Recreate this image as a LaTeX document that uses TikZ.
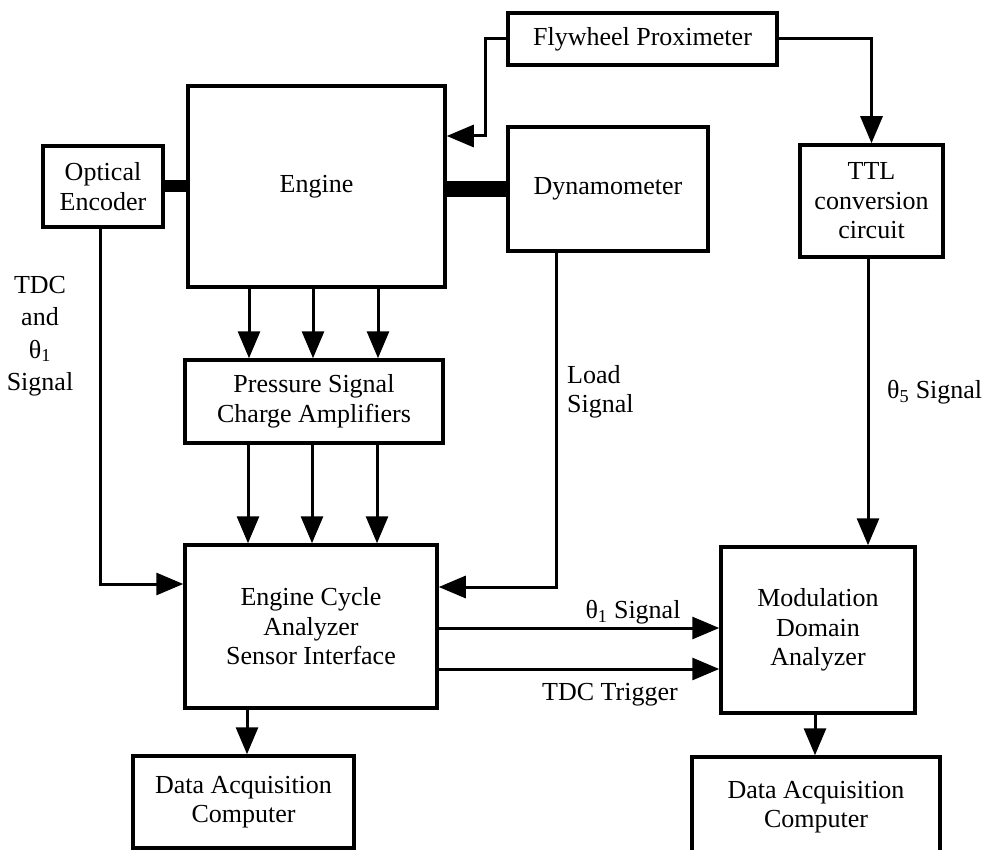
\documentclass[tikz,border=0pt]{standalone}
\usepackage{fontspec}
\setmainfont{Liberation Serif}
\usetikzlibrary{arrows.meta}
\begin{document}
\begin{tikzpicture}[x=1pt,y=-1pt,
  box/.style={draw,line width=3.5pt,inner sep=0pt,align=center,font=\fontsize{26}{29.5}\selectfont},
  conn/.style={line width=3pt,-{Triangle[width=22pt,length=27pt]}},
  shaft/.style={line width=#1},
  lbl/.style={inner sep=0pt,font=\fontsize{26}{29.5}\selectfont}]
\clip (0,0) rectangle (985,850);
% boxes
\node[box,minimum width=269pt,minimum height=52pt] (fly) at (642.5,39) {Flywheel Proximeter};
\node[box,minimum width=257pt,minimum height=201pt] (engine) at (316.5,186.5) {Engine};
\node[box,minimum width=120pt,minimum height=81pt] (enc) at (103,186.5) {Optical\\Encoder};
\node[box,minimum width=200pt,minimum height=124pt] (dyno) at (608,189) {Dynamometer};
\node[box,minimum width=143pt,minimum height=112pt] (ttl) at (871.5,201) {TTL\\conversion\\circuit};
\node[box,minimum width=258pt,minimum height=83pt] (press) at (314,401.5) {Pressure Signal\\Charge Amplifiers};
\node[box,minimum width=252pt,minimum height=163pt] (eca) at (311,626.5) {Engine Cycle\\Analyzer\\Sensor Interface};
\node[box,minimum width=194pt,minimum height=166pt] (mda) at (818,630) {Modulation\\Domain\\Analyzer};
\node[box,minimum width=221pt,minimum height=92pt] (dac1) at (243.5,802) {Data Acquisition\\Computer};
\node[box,minimum width=248pt,minimum height=116pt] (dac2) at (816,815) {};
\node[lbl,align=center] (dac2t) at (816,807) {Data Acquisition\\Computer};
% labels
\node[lbl,align=center] (tdclbl) at (40,336) {TDC\\[3pt]and\\[3pt]θ\textsubscript{1}\\[3pt]Signal};
\node[lbl,align=left,anchor=west] (loadlbl) at (567,392) {Load\\Signal};
\node[lbl,anchor=west] (t5lbl) at (887,392) {θ\textsubscript{5} Signal};
\node[lbl] (t1lbl) at (633,612) {θ\textsubscript{1} Signal};
\node[lbl] (trglbl) at (610,695) {TDC Trigger};
% shafts
\draw[shaft=12pt] (enc.east) -- (engine.west);
\draw[shaft=16pt] (engine.east |- 0,189) -- (dyno.west |- 0,189);
% connectors
\draw[conn] (fly.west) -- ++(-21,0) |- (engine.east |- 0,136);
\draw[conn] (fly.east) -| (ttl.north);
\draw[conn] (ttl.south -| 868,0) -- (mda.north -| 868,0);
\foreach \x in {249,313,378} \draw[conn] (engine.south -| \x,0) -- (press.north -| \x,0);
\foreach \x in {248,312,377} \draw[conn] (press.south -| \x,0) -- (eca.north -| \x,0);
\draw[conn] (enc.south -| 100,0) |- (eca.west |- 0,584);
\draw[conn] (dyno.south -| 556,0) |- (eca.east |- 0,587);
\draw[conn] (eca.east |- 0,628) -- (mda.west |- 0,628);
\draw[conn] (eca.east |- 0,669) -- (mda.west |- 0,669);
\draw[conn] (eca.south -| 247,0) -- (dac1.north -| 247,0);
\draw[conn] (mda.south -| 815,0) -- (dac2.north -| 815,0);
\end{tikzpicture}
\end{document}
